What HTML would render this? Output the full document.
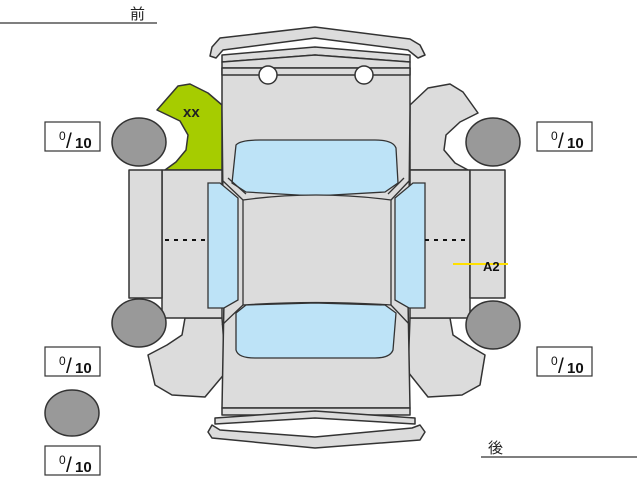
<!DOCTYPE html>
<html><head><meta charset="utf-8"><style>
html,body{margin:0;padding:0;background:#fff;width:640px;height:480px;overflow:hidden}
svg{display:block}
text{font-family:"Liberation Sans","Noto Sans CJK JP",sans-serif}
</style></head><body>
<svg width="640" height="480" viewBox="0 0 640 480" xmlns="http://www.w3.org/2000/svg">
<g stroke="#333" stroke-width="1.5" fill="#dcdcdc" stroke-linejoin="round">
<path d="M222,105 L208,93 L190,84 L178,86 L157,110 L180,121 L188,135 L186,150 L176,162 L165,170 L222,170 Z" fill="#a6cc00"/>
<path d="M410,105 L428,88 L450,84 L463,92 L478,113 L460,122 L446,135 L444,150 L455,163 L468,170 L410,170 Z"/>
<path d="M222,318 L185,318 L182,335 L167,345 L148,355 L155,385 L172,395 L205,397 L226,372 Z"/>
<path d="M410,318 L450,318 L453,335 L468,345 L485,355 L480,385 L462,395 L428,397 L408,372 Z"/>
<rect x="162" y="170" width="60" height="148"/>
<rect x="410" y="170" width="60" height="148"/>
<rect x="129" y="170" width="33" height="128"/>
<rect x="470" y="170" width="35" height="128"/>
<path d="M222,68 L410,68 L410,110 L408,300 L410,408 L222,408 L224,300 L222,110 Z"/>
<path d="M212,47 L210,56 L216,58 L223,50 L315,38 L408,50 L418,58 L425,55 L420,45 L410,39 L315,27 L220,38 Z"/>
<path d="M222,55 L315,47 L410,55 L410,62 L315,55 L222,62 Z"/>
<path d="M222,62 L315,55 L410,62 L410,68 L222,68 Z"/>
<path d="M222,68 L410,68 L410,75 L222,75 Z"/>
<path d="M222,408 L410,408 L410,415 L222,415 Z"/>
<path d="M215,418 L315,411 L415,418 L415,424 L315,418 L215,424 Z"/>
<path d="M212,425 L208,432 L212,438 L315,448 L420,440 L425,432 L420,425 L412,428 L315,437 L220,430 Z"/>
</g>
<g fill="#fff" stroke="#333" stroke-width="1.5">
<circle cx="268" cy="75" r="9"/>
<circle cx="364" cy="75" r="9"/>
</g>
<g fill="#bde3f7" stroke="#333" stroke-width="1.3">
<path d="M236,145 Q240,140 260,140 L375,140 Q393,140 396,148 L398,183 L385,192 L315,196 L246,192 L232,183 Z"/>
<path d="M236,313 L246,305 L315,303 L385,305 L396,313 L393,350 Q390,358 375,358 L255,358 Q238,358 236,350 Z"/>
<path d="M208,183 L220,183 L238,198 L238,300 L224,308 L208,308 Z"/>
<path d="M425,183 L413,183 L395,198 L395,300 L409,308 L425,308 Z"/>
</g>
<path d="M243,200 Q315,190 391,200 L391,305 Q315,300 243,305 Z" fill="#dcdcdc" stroke="#333" stroke-width="1.3"/>
<g stroke="#333" stroke-width="1.3" fill="none">
<path d="M222,180 L243,200 M410,180 L391,200 M222,325 L243,305 M410,325 L391,305"/>
<path d="M228,178 L246,194 M404,178 L388,194"/>
</g>
<g stroke="#111" stroke-width="2" stroke-dasharray="4,5">
<line x1="165" y1="240" x2="208" y2="240"/>
<line x1="425" y1="240" x2="468" y2="240"/>
</g>
<g fill="#999" stroke="#333" stroke-width="1.5">
<ellipse cx="139" cy="142" rx="27" ry="24"/>
<ellipse cx="493" cy="142" rx="27" ry="24"/>
<ellipse cx="139" cy="323" rx="27" ry="24"/>
<ellipse cx="493" cy="325" rx="27" ry="24"/>
<ellipse cx="72" cy="413" rx="27" ry="23"/>
</g>
<g fill="#fff" stroke="#333" stroke-width="1.2">
<rect x="45" y="122" width="55" height="29"/>
<rect x="537" y="122" width="55" height="29"/>
<rect x="45" y="347" width="55" height="29"/>
<rect x="537" y="347" width="55" height="29"/>
<rect x="45" y="446" width="55" height="29"/>
</g>
<g fill="#111">
<g font-size="12"><text x="59" y="140">0</text><text x="551" y="140">0</text><text x="59" y="365">0</text><text x="551" y="365">0</text><text x="59" y="464">0</text></g>
<g font-size="21"><text x="66" y="148">/</text><text x="558" y="148">/</text><text x="66" y="373">/</text><text x="558" y="373">/</text><text x="66" y="472">/</text></g>
<g font-size="15" font-weight="bold"><text x="75" y="148">10</text><text x="567" y="148">10</text><text x="75" y="373">10</text><text x="567" y="373">10</text><text x="75" y="472">10</text></g>
</g>
<text x="183" y="117" font-size="15" font-weight="bold" fill="#222">xx</text>
<line x1="453" y1="264" x2="508" y2="264" stroke="#ffe000" stroke-width="2"/>
<text x="483" y="271" font-size="13" font-weight="bold" fill="#111">A2</text>
<text x="130" y="19" font-size="15" fill="#222">前</text>
<line x1="0" y1="23" x2="157" y2="23" stroke="#333" stroke-width="1.3"/>
<text x="488" y="453" font-size="15" fill="#222">後</text>
<line x1="481" y1="457" x2="637" y2="457" stroke="#333" stroke-width="1.3"/>
</svg>
</body></html>
